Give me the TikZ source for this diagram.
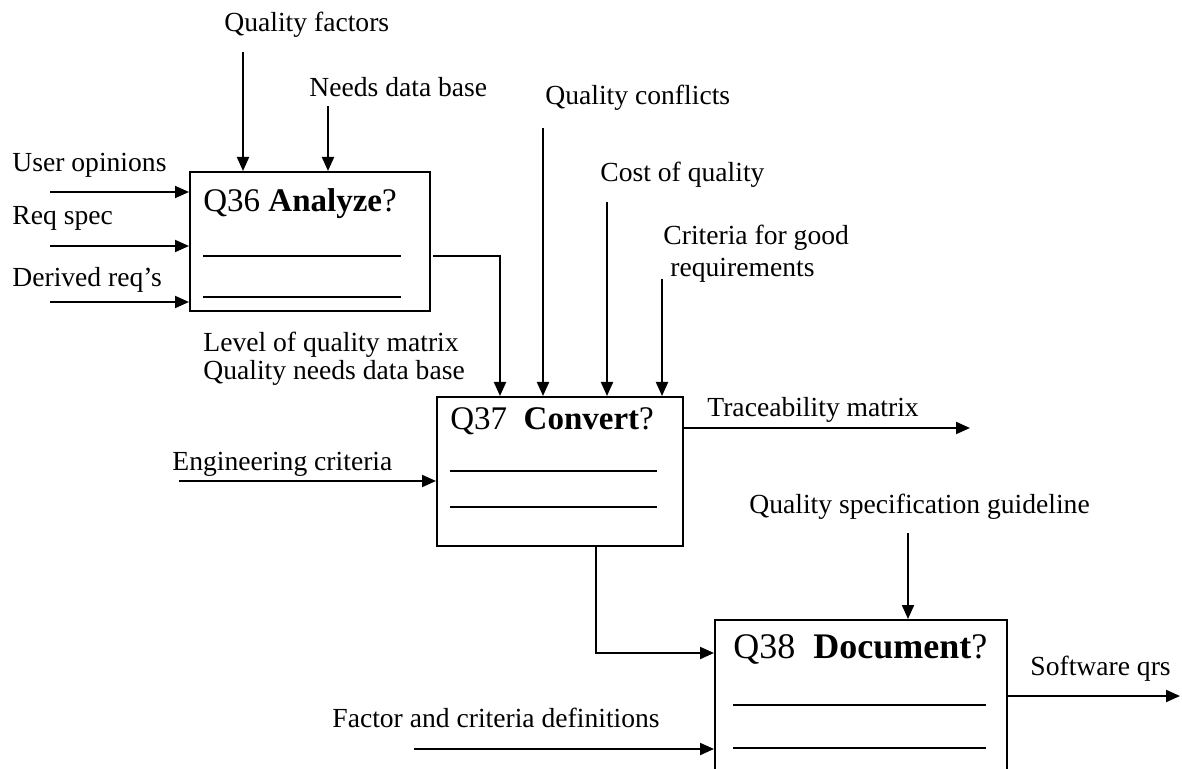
\documentclass[tikz,border=0pt]{standalone}
\usepackage{fontspec}
\setmainfont{Liberation Serif}
\usetikzlibrary{arrows.meta}
\begin{document}
\begin{tikzpicture}[x=0.5pt,y=-0.5pt,
   bx/.style={draw,line width=1pt,anchor=north west,inner sep=0pt},
   lb/.style={anchor=base west,inner sep=0pt,font=\fontsize{13.8}{16}\selectfont},
   tl/.style={anchor=base west,inner sep=0pt,font=\fontsize{16.5}{19}\selectfont},
   ar/.style={line width=1pt,-{Triangle[length=7pt,width=6pt]}},
   bl/.style={line width=0.75pt}]
   \useasboundingbox (0,0) rectangle (1182,769);
   \clip (0,0) rectangle (1182,769);
   % boxes
   \node[bx,minimum width=120pt,minimum height=69.5pt] (A) at (189,171) {};
   \node[bx,minimum width=123pt,minimum height=74.5pt] (C) at (436,396) {};
   \node[bx,minimum width=146pt,minimum height=100pt] (D) at (714,619) {};
   \node[tl] (tA) at (203,212) {Q36 \textbf{Analyze}?};
   \node[tl] (tC) at (450,430) {Q37\ \ \textbf{Convert}?};
   \node[tl,font=\fontsize{18}{21}\selectfont] (tD) at (733,658) {Q38\ \ \textbf{Document}?};
   \draw[bl] (203,256) -- (401,256) (203,297) -- (401,297);
   \draw[bl] (450,471) -- (657,471) (450,507) -- (657,507);
   \draw[bl] (733,705) -- (986,705) (733,748) -- (986,748);
   % labels
   \node[lb] (qf) at (224,32) {Quality factors};
   \node[lb] (nd) at (309,97) {Needs data base};
   \node[lb] (uo) at (12,172) {User opinions};
   \node[lb] (rs) at (12,225) {Req spec};
   \node[lb] (dr) at (12,287) {Derived req's};
   \node[lb] (lq) at (203,352) {Level of quality matrix};
   \node[lb] (qn) at (203,380) {Quality needs data base};
   \node[lb] (qc) at (545,105) {Quality conflicts};
   \node[lb] (cq) at (600,182) {Cost of quality};
   \node[lb] (cg) at (663,245) {Criteria for good};
   \node[lb] (rq) at (670,277) {requirements};
   \node[lb] (ec) at (172,471) {Engineering criteria};
   \node[lb] (tm) at (707,417) {Traceability matrix};
   \node[lb] (qs) at (749,513) {Quality specification guideline};
   \node[lb] (fc) at (332,727) {Factor and criteria definitions};
   \node[lb] (sq) at (1030,675) {Software qrs};
   % arrows into Q36
   \coordinate (qf0) at (243,52);
   \coordinate (nd0) at (328,106);
   \coordinate (uo0) at (50,192);
   \coordinate (rs0) at (50,246);
   \coordinate (dr0) at (50,302);
   \draw[ar] (qf0) -- (qf0 |- A.north);
   \draw[ar] (nd0) -- (nd0 |- A.north);
   \draw[ar] (uo0) -- (uo0 -| A.west);
   \draw[ar] (rs0) -- (rs0 -| A.west);
   \draw[ar] (dr0) -- (dr0 -| A.west);
   % arrows into Q37
   \coordinate (a1) at (433,256);
   \coordinate (qc0) at (543,128);
   \coordinate (cq0) at (607,202);
   \coordinate (cg0) at (662,279);
   \coordinate (ec0) at (179,481);
   \coordinate (tm1) at (970,428);
   \draw[ar] (a1) -| ([xshift=32pt]C.north west);
   \draw[ar] (qc0) -- (qc0 |- C.north);
   \draw[ar] (cq0) -- (cq0 |- C.north);
   \draw[ar] (cg0) -- (cg0 |- C.north);
   \draw[ar] (ec0) -- (ec0 -| C.west);
   \draw[ar] (tm1 -| C.east) -- (tm1);
   % arrows into Q38
   \coordinate (qs0) at (908,533);
   \coordinate (fc0) at (414,749);
   \coordinate (sq1) at (1180,696);
   \draw[ar] ([xshift=80pt]C.south west) |- ([yshift=-17pt]D.north west);
   \draw[ar] (qs0) -- (qs0 |- D.north);
   \draw[ar] (fc0) -- (fc0 -| D.west);
   \draw[ar] (sq1 -| D.east) -- (sq1);
\end{tikzpicture}
\end{document}
